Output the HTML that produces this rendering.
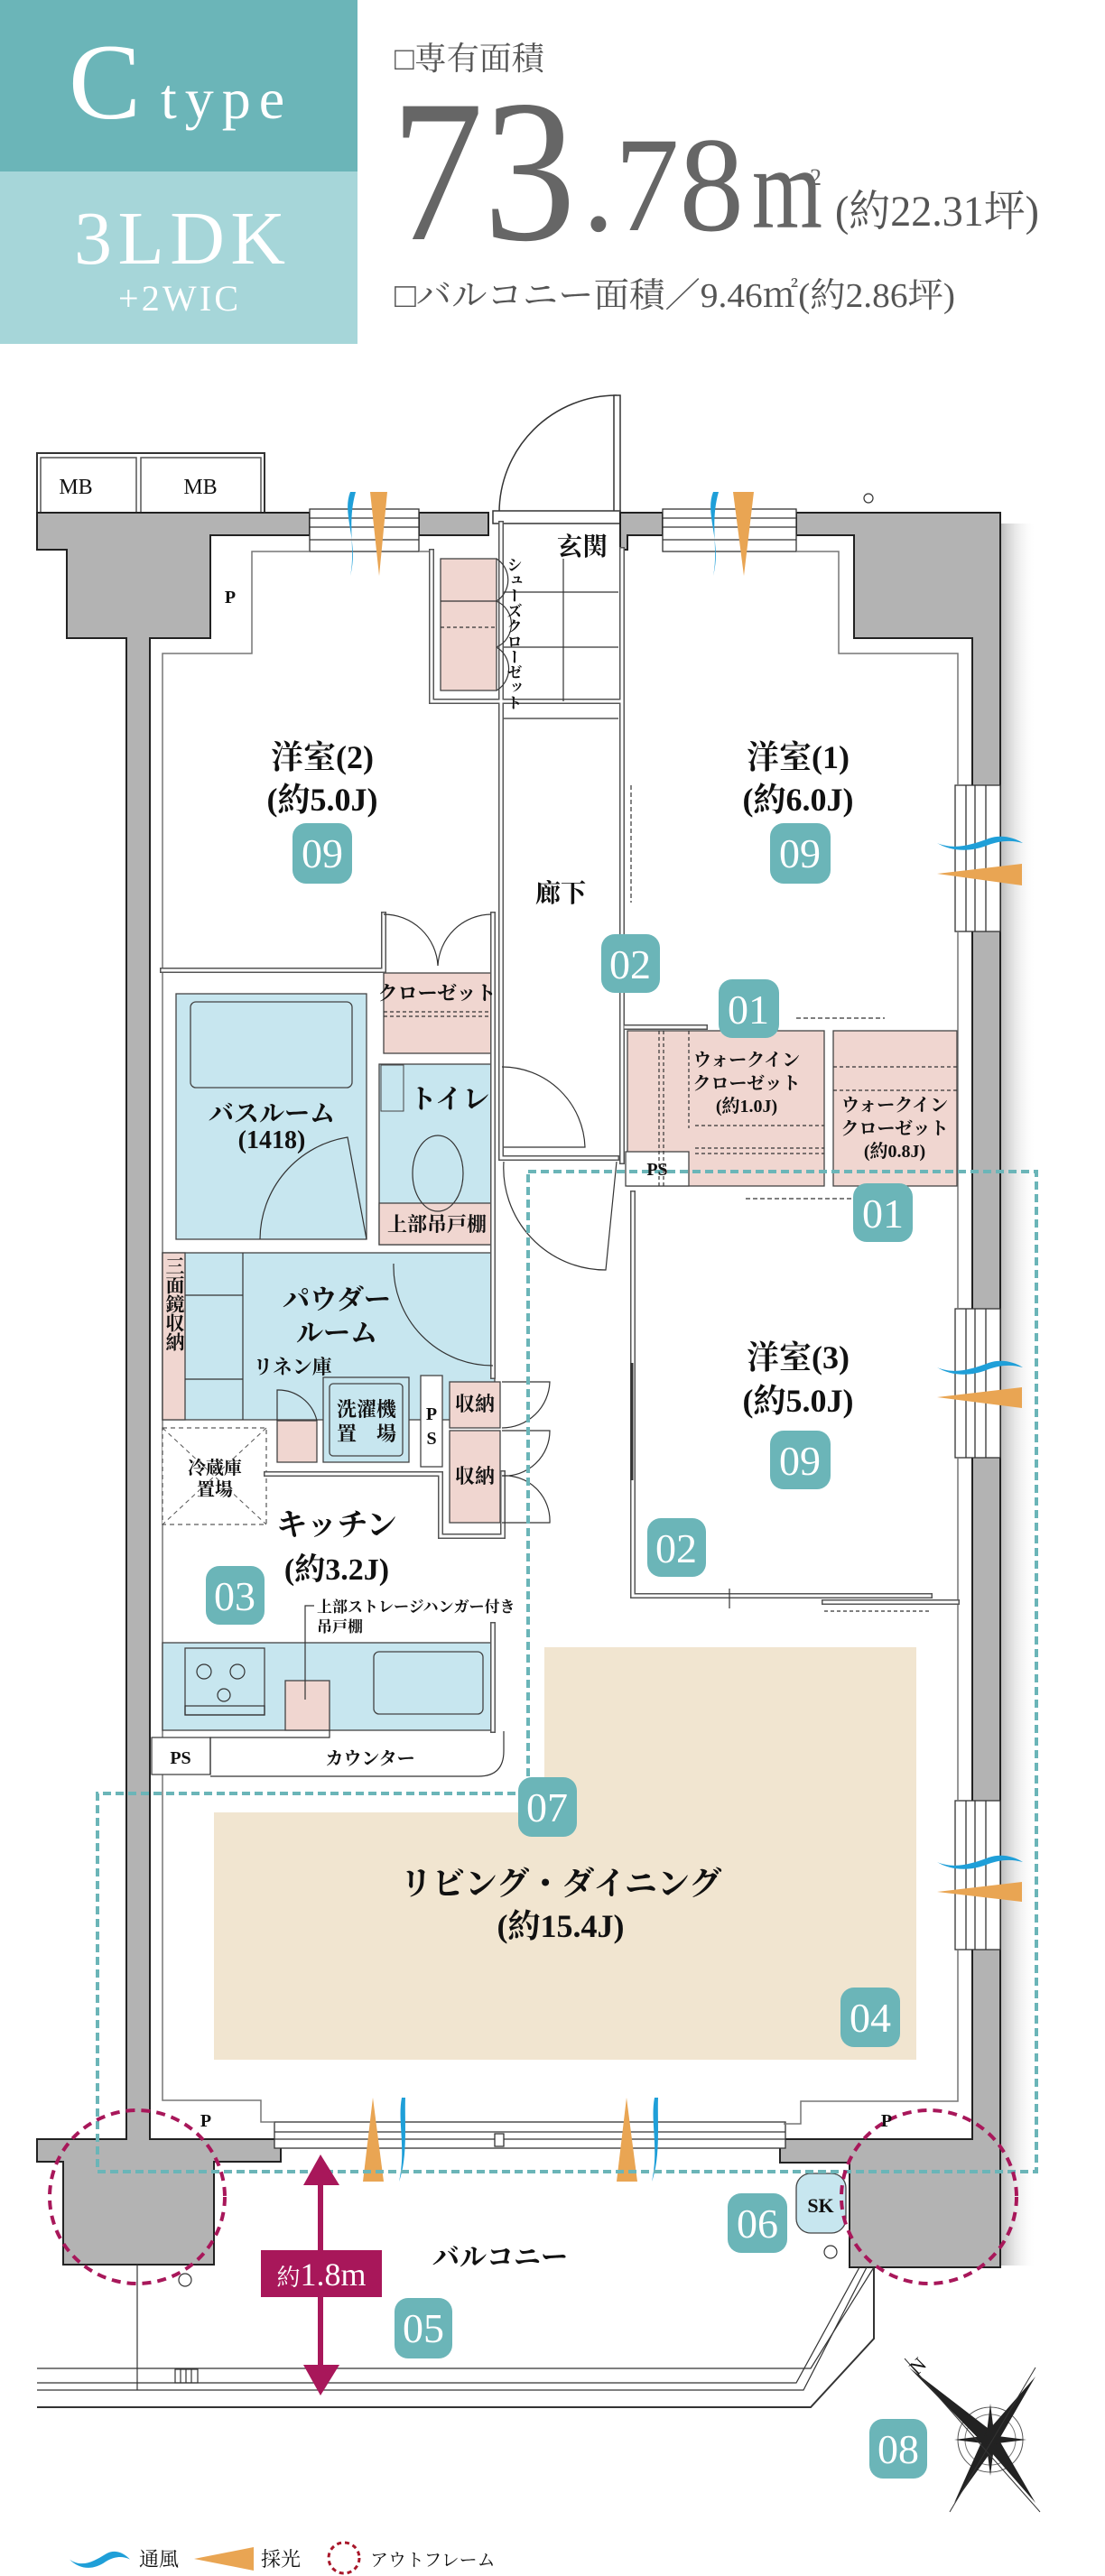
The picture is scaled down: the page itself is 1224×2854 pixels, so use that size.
<!DOCTYPE html>
<html><head><meta charset="utf-8"><style>
html,body{margin:0;padding:0;background:#fff}
svg{display:block}
.j{font-family:"Liberation Serif","Noto Serif CJK SC",serif;font-weight:bold;fill:#111}
.s{font-family:"Liberation Serif","Noto Serif CJK SC",serif;fill:#111}
.b{font-family:"Liberation Serif",serif;fill:#fff;font-size:46px}
</style></head><body>
<svg width="1224" height="2854" viewBox="0 0 1224 2854" xmlns="http://www.w3.org/2000/svg">
<defs>
<linearGradient id="sh" x1="0" x2="1"><stop offset="0" stop-color="#bbb"/><stop offset="1" stop-color="#fff" stop-opacity="0"/></linearGradient>
<g id="wave"><path d="M0,8 C20,16 40,10 60,3 C75,-2 90,2 100,8 C85,4 72,6 60,10 C40,18 18,18 0,8Z" fill="#1f9fd8"/></g>
</defs>
<!-- header -->
<rect x="0" y="0" width="396" height="190" fill="#6bb5b8"/>
<rect x="0" y="190" width="396" height="191" fill="#a6d6d9"/>
<text x="76" y="131" font-family="Liberation Serif,serif" font-size="120" fill="#fff">C</text>
<text x="178" y="131" font-family="Liberation Serif,serif" font-size="64" fill="#fff" letter-spacing="9">type</text>
<text x="82" y="292" font-family="Liberation Serif,serif" font-size="84" fill="#fff" textLength="234">3LDK</text>
<text x="131" y="344" font-family="Liberation Serif,serif" font-size="40" fill="#fff" textLength="133">+2WIC</text>
<text x="437" y="77" class="s" font-size="36" style="fill:#555">□専有面積</text>
<text x="433" y="265" font-family="Liberation Serif,serif" font-size="225" fill="#666" textLength="205" lengthAdjust="spacingAndGlyphs">73</text>
<text x="645" y="255" font-family="Liberation Serif,serif" font-size="150" fill="#666" textLength="179" lengthAdjust="spacingAndGlyphs">.78</text>
<text x="833" y="252" font-family="Liberation Serif,serif" font-size="128" fill="#666" textLength="78" lengthAdjust="spacingAndGlyphs">m</text>
<text x="897" y="205" font-family="Liberation Serif,serif" font-size="26" fill="#666">2</text>
<text x="925" y="250" class="s" font-size="48" style="fill:#555" textLength="226" lengthAdjust="spacingAndGlyphs">(約22.31坪)</text>
<text x="437" y="340" class="s" font-size="38" style="fill:#555" textLength="621" lengthAdjust="spacingAndGlyphs">□バルコニー面積／9.46㎡(約2.86坪)</text>

<!-- MB -->
<rect x="41" y="502" width="252" height="66" fill="#fff" stroke="#333" stroke-width="2"/>
<rect x="45" y="507" width="106" height="61" fill="none" stroke="#555" stroke-width="1.5"/>
<rect x="156" y="507" width="133" height="61" fill="none" stroke="#555" stroke-width="1.5"/>
<text x="84" y="547" class="s" font-size="24" text-anchor="middle">MB</text>
<text x="222" y="547" class="s" font-size="24" text-anchor="middle">MB</text>

<!-- shadow right -->
<rect x="1108" y="580" width="40" height="1930" fill="url(#sh)"/>

<!-- door entrance -->
<path d="M553,568 A130,130 0 0 1 683,438" fill="none" stroke="#333" stroke-width="1.5"/>
<rect x="680" y="438" width="7" height="130" fill="#fff" stroke="#333" stroke-width="1.5"/>
<rect x="546" y="566" width="141" height="14" fill="#fff" stroke="#333" stroke-width="1.5"/>

<!-- walls -->
<g fill="#b3b3b3" stroke="#222" stroke-width="2">
<polygon points="41,568 343,568 343,593 233,593 233,707 166,707 166,2370 311,2370 311,2395 237,2395 237,2509 70,2509 70,2395 41,2395 41,2370 140,2370 140,707 74,707 74,609 41,609"/>
<polygon points="464,568 541,568 541,593 464,593"/>
<polygon points="687,568 734,568 734,593 695,593 695,609 687,609"/>
<polygon points="882,568 1108,568 1108,2512 941,2512 941,2396 864,2396 864,2370 1077,2370 1077,707 946,707 946,593 882,593"/>
</g>
<!-- windows -->
<g fill="#fff" stroke="#333" stroke-width="1.3">
<rect x="343" y="564" width="121" height="47"/>
<line x1="343" y1="574" x2="464" y2="574"/><line x1="343" y1="584" x2="464" y2="584"/><line x1="343" y1="598" x2="464" y2="598"/>
<rect x="734" y="564" width="148" height="47"/>
<line x1="734" y1="574" x2="882" y2="574"/><line x1="734" y1="584" x2="882" y2="584"/><line x1="734" y1="598" x2="882" y2="598"/>
<rect x="1058" y="870" width="50" height="162"/><line x1="1070" y1="870" x2="1070" y2="1032"/><line x1="1080" y1="870" x2="1080" y2="1032"/><line x1="1092" y1="870" x2="1092" y2="1032"/>
<rect x="1058" y="1450" width="50" height="165"/><line x1="1070" y1="1450" x2="1070" y2="1615"/><line x1="1080" y1="1450" x2="1080" y2="1615"/><line x1="1092" y1="1450" x2="1092" y2="1615"/>
<rect x="1058" y="1995" width="50" height="165"/><line x1="1070" y1="1995" x2="1070" y2="2160"/><line x1="1080" y1="1995" x2="1080" y2="2160"/><line x1="1092" y1="1995" x2="1092" y2="2160"/>
<rect x="304" y="2351" width="566" height="29"/>
<line x1="304" y1="2362" x2="870" y2="2362"/><line x1="304" y1="2370" x2="870" y2="2370"/>
<rect x="548" y="2364" width="10" height="14"/>
</g>
<!-- inner boundary lines -->
<g fill="none" stroke="#777" stroke-width="1.5">
<polyline points="304,2351 289,2351 289,2327 180,2327 180,724 279,724 279,611 343,611"/>
<polyline points="868,2353 887,2353 887,2328 1061,2328 1061,2160"/>
<polyline points="1061,1995 1061,1615"/><polyline points="1061,1450 1061,1032"/>
<polyline points="1061,870 1061,724 929,724 929,611 882,611"/>
<line x1="464" y1="611" x2="478" y2="611"/>
</g>

<!-- pink/blue areas -->
<g stroke="#444" stroke-width="1.3">
<rect x="488" y="619" width="62" height="146" fill="#f0d6d0"/>
<rect x="425" y="1078" width="119" height="89" fill="#f0d6d0"/>
<rect x="195" y="1101" width="211" height="272" fill="#c7e6ef"/>
<rect x="211" y="1110" width="179" height="95" rx="6" fill="#c7e6ef"/>
<rect x="420" y="1179" width="128" height="200" fill="#c7e6ef"/>
<rect x="420" y="1333" width="128" height="46" fill="#f0d6d0"/>
<rect x="180" y="1388" width="368" height="185" fill="#c7e6ef"/>
<rect x="180" y="1388" width="25" height="185" fill="#f0d6d0"/>
<rect x="358" y="1526" width="95" height="94" fill="#c7e6ef"/>
<rect x="365" y="1533" width="81" height="80" rx="4" fill="#c7e6ef"/>
<rect x="307" y="1574" width="44" height="46" fill="#f0d6d0"/>
<rect x="466" y="1524" width="24" height="101" fill="#fff"/>
<rect x="498" y="1531" width="56" height="51" fill="#f0d6d0"/>
<rect x="498" y="1585" width="56" height="102" fill="#f0d6d0"/>
<rect x="180" y="1820" width="366" height="97" fill="#c7e6ef"/>
<rect x="205" y="1826" width="88" height="74" fill="#c7e6ef"/>
<rect x="414" y="1830" width="121" height="69" rx="6" fill="#c7e6ef"/>
<rect x="316" y="1862" width="49" height="55" fill="#f0d6d0"/>
<rect x="695" y="1142" width="218" height="172" fill="#f0d6d0"/>
<rect x="923" y="1142" width="137" height="172" fill="#f0d6d0"/>
<rect x="693" y="1276" width="70" height="38" fill="#fff"/>
<rect x="168" y="1925" width="65" height="41" fill="#fff"/>
<rect x="882" y="2408" width="55" height="66" rx="16" fill="#c7e6ef"/>
</g>
<polygon points="603,1825 1015,1825 1015,2282 237,2282 237,2008 603,2008" fill="#f1e5d0"/>
<rect x="422" y="1180" width="25" height="51" fill="none" stroke="#444"/>
<ellipse cx="485" cy="1300" rx="28" ry="42" fill="none" stroke="#333" stroke-width="1.2"/>
<rect x="180" y="1582" width="115" height="107" fill="#fff" stroke="#333" stroke-dasharray="5,4"/>
<line x1="180" y1="1582" x2="295" y2="1689" stroke="#555" stroke-dasharray="5,4"/>
<line x1="295" y1="1582" x2="180" y2="1689" stroke="#555" stroke-dasharray="5,4"/>

<!-- interior walls -->
<g fill="none" stroke-linecap="square">
<g stroke="#555" stroke-width="6">
<polyline points="478,611 478,777 687,777"/>
<line x1="555" y1="580" x2="555" y2="1283"/>
<line x1="689" y1="609" x2="689" y2="1287"/>
<polyline points="180,1075 425,1075 425,1013"/>
<line x1="546" y1="1013" x2="546" y2="1525"/>
<line x1="558" y1="1283" x2="683" y2="1283"/>
<polyline points="701,1322 701,1768 1030,1768"/>
<polyline points="693,1138 781,1138"/>
<polyline points="295,1633 488,1633 488,1702 557,1702 557,1632"/>
<line x1="546" y1="1800" x2="546" y2="1917"/>
<line x1="1060" y1="1775" x2="913" y2="1775"/>
</g>
<g stroke="#fff" stroke-width="3">
<polyline points="478,611 478,777 687,777"/>
<line x1="555" y1="580" x2="555" y2="1283"/>
<line x1="689" y1="609" x2="689" y2="1287"/>
<polyline points="180,1075 425,1075 425,1013"/>
<line x1="546" y1="1013" x2="546" y2="1525"/>
<line x1="558" y1="1283" x2="683" y2="1283"/>
<polyline points="701,1322 701,1768 1030,1768"/>
<polyline points="693,1138 781,1138"/>
<polyline points="295,1633 488,1633 488,1702 557,1702 557,1632"/>
<line x1="546" y1="1800" x2="546" y2="1917"/>
<line x1="1060" y1="1775" x2="913" y2="1775"/>
</g>
</g>
<g fill="none" stroke="#333" stroke-width="1.2">
<line x1="558" y1="796" x2="685" y2="796"/>
<line x1="624" y1="777" x2="624" y2="619"/><line x1="558" y1="656" x2="685" y2="656"/><line x1="558" y1="717" x2="685" y2="717"/>
<line x1="488" y1="666" x2="550" y2="666"/>
<line x1="488" y1="695" x2="550" y2="695" stroke-dasharray="4,3"/>
<path d="M550,619 A28,28 0 0 1 550,666 M550,666 A28,28 0 0 1 550,717 M550,717 A28,28 0 0 1 550,765"/>
<path d="M425,1013 A60,60 0 0 1 485,1070 M544,1013 A60,60 0 0 0 485,1070"/>
<line x1="425" y1="1121" x2="544" y2="1121" stroke-dasharray="4,3"/><line x1="425" y1="1126" x2="544" y2="1126" stroke-dasharray="4,3"/>
<path d="M556,1182 A92,92 0 0 1 648,1271 L558,1271"/>
<path d="M558,1287 A113,113 0 0 0 671,1407 L683,1287"/>
<path d="M288,1373 A115,115 0 0 1 385,1260 L406,1373"/>
<path d="M436,1400 A110,110 0 0 0 546,1513"/>
<line x1="269" y1="1388" x2="269" y2="1573"/><line x1="205" y1="1435" x2="269" y2="1435"/><line x1="205" y1="1528" x2="269" y2="1528"/>
<path d="M307,1574 L307,1540 A44,44 0 0 1 351,1574"/>
<path d="M556,1531 L609,1531 A53,53 0 0 1 556,1582 M556,1585 L609,1585 A50,50 0 0 1 556,1635 M556,1635 A50,50 0 0 1 609,1687 L556,1687"/>
<path d="M735,1142 L735,1314 M730,1142 L730,1314" stroke-dasharray="4,3"/>
<line x1="763" y1="1142" x2="763" y2="1250" stroke-dasharray="4,3"/>
<line x1="770" y1="1247" x2="913" y2="1247" stroke-dasharray="4,3"/><line x1="770" y1="1272" x2="913" y2="1272" stroke-dasharray="4,3"/><line x1="770" y1="1278" x2="913" y2="1278" stroke-dasharray="4,3"/>
<line x1="923" y1="1182" x2="1060" y2="1182" stroke-dasharray="4,3"/><line x1="923" y1="1208" x2="1060" y2="1208" stroke-dasharray="4,3"/>
<line x1="882" y1="1128" x2="980" y2="1128" stroke-dasharray="5,3"/>
<line x1="826" y1="1328" x2="945" y2="1328" stroke-dasharray="5,3"/>
<line x1="699" y1="870" x2="699" y2="1000" stroke-dasharray="5,3"/>
<line x1="700" y1="1510" x2="700" y2="1640" stroke-width="3"/>
<line x1="808" y1="1760" x2="808" y2="1782"/><line x1="913" y1="1785" x2="1030" y2="1785" stroke-dasharray="4,3"/>
<polyline points="338,1883 338,1779 348,1779"/>
<polyline points="233,1966 233,1925 365,1925 365,1917"/>
<path d="M558,1918 L558,1940 Q558,1968 530,1968 L233,1968"/>
<circle cx="226" cy="1852" r="8"/><circle cx="263" cy="1852" r="8"/><circle cx="248" cy="1878" r="7"/>
<rect x="205" y="1890" width="88" height="10"/>
<polyline points="41,2624 898,2624 968,2512"/>
<polyline points="41,2640 882,2640 952,2512"/>
<polyline points="41,2648 890,2648 960,2512"/>
<polyline points="41,2667 898,2667 968,2591 968,2512" stroke-width="2"/>
<line x1="152" y1="2509" x2="152" y2="2648"/>
<rect x="194" y="2625" width="25" height="15"/>
<line x1="200" y1="2625" x2="200" y2="2640"/><line x1="206" y1="2625" x2="206" y2="2640"/><line x1="212" y1="2625" x2="212" y2="2640"/>
<circle cx="205" cy="2526" r="7"/><circle cx="920" cy="2495" r="7"/><circle cx="962" cy="552" r="5"/>
</g>

<!-- vents -->
<g>
<path d="M388,545 C378,570 398,600 388,638 C394,610 384,580 394,545Z" fill="#1f9fd8"/>
<polygon points="410,545 429,545 420,638" fill="#e9a553"/>
<path d="M790,545 C780,570 800,600 790,638 C796,610 786,580 796,545Z" fill="#1f9fd8"/>
<polygon points="812,545 835,545 824,638" fill="#e9a553"/>
<polygon points="402,2417 425,2417 413,2324" fill="#e9a553"/>
<path d="M445,2324 C440,2350 450,2380 442,2417 C452,2390 448,2350 449,2324Z" fill="#1f9fd8"/>
<polygon points="683,2417 706,2417 694,2324" fill="#e9a553"/>
<path d="M725,2324 C720,2350 730,2380 722,2417 C732,2390 728,2350 729,2324Z" fill="#1f9fd8"/>
<use href="#wave" transform="translate(1038,926) scale(0.95,1)"/>
<polygon points="1038,968 1132,957 1132,981" fill="#e9a553"/>
<use href="#wave" transform="translate(1038,1507) scale(0.95,1)"/>
<polygon points="1038,1548 1132,1537 1132,1560" fill="#e9a553"/>
<use href="#wave" transform="translate(1038,2055) scale(0.95,1)"/>
<polygon points="1038,2096 1132,2085 1132,2107" fill="#e9a553"/>
</g>

<polygon points="585,1298 1148,1298 1148,2406 108,2406 108,1987 585,1987" fill="none" stroke="#6bb5b8" stroke-width="4" stroke-dasharray="9,5"/>
<ellipse cx="152" cy="2434" rx="97" ry="96" fill="none" stroke="#a8175a" stroke-width="4" stroke-dasharray="10,7"/>
<ellipse cx="1029" cy="2434" rx="97" ry="96" fill="none" stroke="#a8175a" stroke-width="4" stroke-dasharray="10,7"/>
<line x1="355" y1="2410" x2="355" y2="2630" stroke="#a8175a" stroke-width="6"/>
<polygon points="355,2387 336,2421 376,2421" fill="#a8175a"/>
<polygon points="355,2654 336,2620 376,2620" fill="#a8175a"/>
<rect x="289" y="2493" width="134" height="52" fill="#a8175a"/>
<text x="356" y="2532" text-anchor="middle" font-family="Liberation Serif,'Noto Serif CJK SC',serif" font-size="36" fill="#fff"><tspan font-size="26">約</tspan>1.8m</text>

<g transform="translate(1097,2703)">
<circle r="36" fill="none" stroke="#555"/><circle r="28" fill="none" stroke="#777"/>
<polygon points="-90,-80 6,-6 -6,6" fill="#222"/><polygon points="50,70 6,-6 -6,6" fill="#222"/>
<polygon points="50,-70 -6,-6 6,6" fill="#222"/><polygon points="-40,70 -6,-6 6,6" fill="#222"/>
<polygon points="0,-40 5,0 0,40 -5,0" fill="#222"/><polygon points="-40,0 0,5 40,0 0,-5" fill="#222"/>
<line x1="-95" y1="-90" x2="55" y2="80" stroke="#333"/><line x1="50" y1="-80" x2="-45" y2="80" stroke="#333"/>
<text x="-88" y="-68" class="s" font-size="22" transform="rotate(-45,-88,-78)">N</text>
</g>

<g class="j">
<text x="617" y="615" font-size="28" class="j">玄関</text>
<text x="357" y="851" font-size="36" text-anchor="middle" class="j">洋室(2)</text>
<text x="357" y="898" font-size="36" text-anchor="middle" class="j">(約5.0J)</text>
<text x="884" y="851" font-size="36" text-anchor="middle" class="j">洋室(1)</text>
<text x="884" y="898" font-size="36" text-anchor="middle" class="j">(約6.0J)</text>
<text x="621" y="999" font-size="28" text-anchor="middle" class="j">廊下</text>
<text x="484" y="1108" font-size="22" text-anchor="middle" class="j">クローゼット</text>
<text x="301" y="1243" font-size="28" text-anchor="middle" class="j">バスルーム</text>
<text x="301" y="1272" font-size="28" text-anchor="middle" class="j">(1418)</text>
<text x="498" y="1228" font-size="30" text-anchor="middle" class="j">トイレ</text>
<text x="484" y="1364" font-size="22" text-anchor="middle" class="j">上部吊戸棚</text>
<text x="373" y="1450" font-size="30" text-anchor="middle" class="j">パウダー</text>
<text x="373" y="1487" font-size="30" text-anchor="middle" class="j">ルーム</text>
<text x="324" y="1522" font-size="22" text-anchor="middle" class="j">リネン庫</text>
<text x="406" y="1569" font-size="22" text-anchor="middle" class="j">洗濯機</text>
<text x="406" y="1596" font-size="22" text-anchor="middle" class="j">置　場</text>
<text x="478" y="1573" font-size="20" text-anchor="middle" class="s">P</text>
<text x="478" y="1600" font-size="20" text-anchor="middle" class="s">S</text>
<text x="526" y="1563" font-size="22" text-anchor="middle" class="j">収納</text>
<text x="526" y="1643" font-size="22" text-anchor="middle" class="j">収納</text>
<text x="238" y="1633" font-size="20" text-anchor="middle" class="j">冷蔵庫</text>
<text x="238" y="1657" font-size="20" text-anchor="middle" class="j">置場</text>
<text x="373" y="1701" font-size="34" text-anchor="middle" class="j">キッチン</text>
<text x="373" y="1750" font-size="34" text-anchor="middle" class="j">(約3.2J)</text>
<text x="351" y="1786" font-size="17" class="s">上部ストレージハンガー付き</text>
<text x="351" y="1808" font-size="17" class="s">吊戸棚</text>
<text x="200" y="1954" font-size="20" text-anchor="middle" class="s">PS</text>
<text x="410" y="1955" font-size="20" text-anchor="middle" class="j">カウンター</text>
<text x="827" y="1181" font-size="20" text-anchor="middle" class="j">ウォークイン</text>
<text x="827" y="1207" font-size="20" text-anchor="middle" class="j">クローゼット</text>
<text x="827" y="1232" font-size="20" text-anchor="middle" class="j">(約1.0J)</text>
<text x="991" y="1231" font-size="20" text-anchor="middle" class="j">ウォークイン</text>
<text x="991" y="1257" font-size="20" text-anchor="middle" class="j">クローゼット</text>
<text x="991" y="1282" font-size="20" text-anchor="middle" class="j">(約0.8J)</text>
<text x="728" y="1302" font-size="20" text-anchor="middle" class="s">PS</text>
<text x="884" y="1516" font-size="36" text-anchor="middle" class="j">洋室(3)</text>
<text x="884" y="1564" font-size="36" text-anchor="middle" class="j">(約5.0J)</text>
<text x="621" y="2099" font-size="36" text-anchor="middle" class="j">リビング・ダイニング</text>
<text x="621" y="2146" font-size="36" text-anchor="middle" class="j">(約15.4J)</text>
<text x="554" y="2511" font-size="30" text-anchor="middle" class="j">バルコニー</text>
<text x="909" y="2451" font-size="22" text-anchor="middle" class="j">SK</text>
<text x="255" y="668" font-size="20" text-anchor="middle" class="s">P</text>
<text x="228" y="2356" font-size="20" text-anchor="middle" class="s">P</text>
<text x="982" y="2356" font-size="20" text-anchor="middle" class="s">P</text>
</g>
<text class="j" font-size="17" writing-mode="tb" x="568" y="617">シューズクローゼット</text>
<text class="j" font-size="21" writing-mode="tb" x="193" y="1392">三面鏡収納</text>

<g>
<rect x="324" y="912" width="66" height="67" rx="15" fill="#6bb5b8"/><text x="357" y="961" text-anchor="middle" class="b">09</text>
<rect x="853" y="912" width="67" height="67" rx="15" fill="#6bb5b8"/><text x="886" y="961" text-anchor="middle" class="b">09</text>
<rect x="666" y="1035" width="65" height="65" rx="15" fill="#6bb5b8"/><text x="698" y="1084" text-anchor="middle" class="b">02</text>
<rect x="796" y="1085" width="67" height="65" rx="15" fill="#6bb5b8"/><text x="829" y="1134" text-anchor="middle" class="b">01</text>
<rect x="945" y="1311" width="66" height="65" rx="15" fill="#6bb5b8"/><text x="978" y="1360" text-anchor="middle" class="b">01</text>
<rect x="853" y="1585" width="67" height="65" rx="15" fill="#6bb5b8"/><text x="886" y="1634" text-anchor="middle" class="b">09</text>
<rect x="717" y="1682" width="65" height="65" rx="15" fill="#6bb5b8"/><text x="749" y="1731" text-anchor="middle" class="b">02</text>
<rect x="228" y="1735" width="65" height="65" rx="15" fill="#6bb5b8"/><text x="260" y="1784" text-anchor="middle" class="b">03</text>
<rect x="574" y="1969" width="65" height="66" rx="15" fill="#6bb5b8"/><text x="606" y="2018" text-anchor="middle" class="b">07</text>
<rect x="931" y="2202" width="66" height="66" rx="15" fill="#6bb5b8"/><text x="964" y="2251" text-anchor="middle" class="b">04</text>
<rect x="806" y="2430" width="66" height="66" rx="15" fill="#6bb5b8"/><text x="839" y="2479" text-anchor="middle" class="b">06</text>
<rect x="437" y="2546" width="64" height="67" rx="15" fill="#6bb5b8"/><text x="469" y="2595" text-anchor="middle" class="b">05</text>
<rect x="963" y="2680" width="64" height="66" rx="15" fill="#6bb5b8"/><text x="995" y="2729" text-anchor="middle" class="b">08</text>
</g>

<use href="#wave" transform="translate(77,2826) scale(0.67,1.2)"/>
<text x="154" y="2843" class="s" font-size="22">通風</text>
<polygon points="215,2835 281,2822 281,2848" fill="#e9a553"/>
<text x="289" y="2843" class="s" font-size="22">採光</text>
<circle cx="381" cy="2834" r="17" fill="none" stroke="#a8172a" stroke-width="3" stroke-dasharray="5,4"/>
<text x="410" y="2843" class="s" font-size="20">アウトフレーム</text>
</svg>
</body></html>
